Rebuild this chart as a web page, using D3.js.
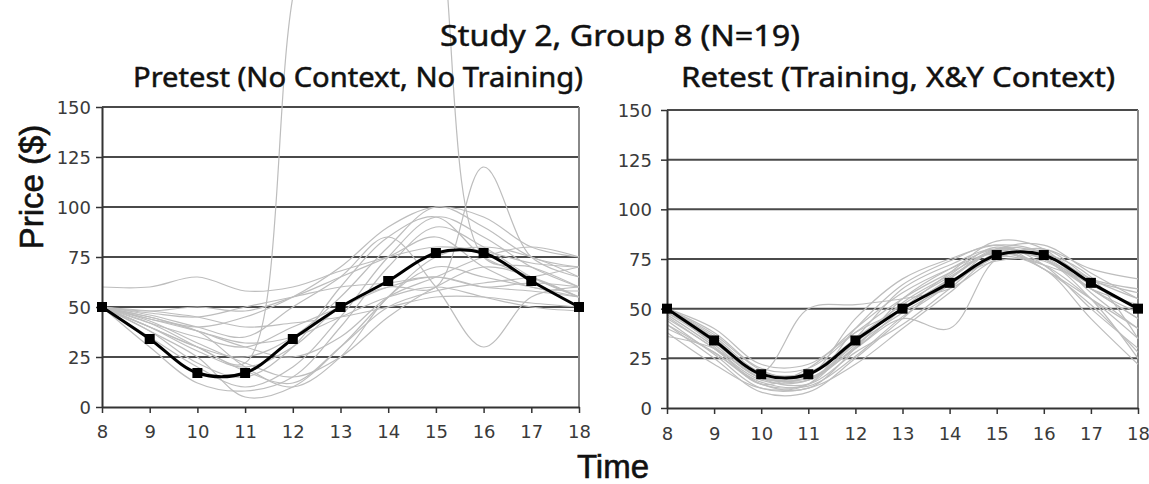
<!DOCTYPE html>
<html>
<head>
<meta charset="utf-8">
<script src="https://cdnjs.cloudflare.com/ajax/libs/d3/7.8.5/d3.min.js"></script>
<style>
  body { margin: 0; background: #fff; }
  svg { display: block; }
</style>
</head>
<body>
<div id="chart"></div>
<script>
// Chart data
var times = [8, 9, 10, 11, 12, 13, 14, 15, 16, 17, 18];
var yTicks = [0, 25, 50, 75, 100, 125, 150];
var targetPrices = [50, 34, 17, 17, 34, 50, 63, 77, 77, 63, 50];

// one row per participant (N=19), price at each time
var pretestPrices = [
  [60, 60, 65, 58, 60, 68, 75, 80, 78, 72, 70],
  [50, 45, 40, 45, 55, 70, 90, 100, 95, 80, 75],
  [50, 40, 30, 25, 35, 55, 80, 100, 90, 75, 70],
  [50, 35, 20, 10, 20, 45, 75, 95, 85, 70, 60],
  [50, 30, 12, 8, 15, 40, 70, 90, 80, 65, 55],
  [50, 42, 35, 30, 40, 50, 60, 65, 60, 58, 55],
  [50, 48, 45, 40, 42, 45, 50, 55, 55, 52, 50],
  [50, 38, 25, 5, 10, 30, 55, 75, 80, 75, 65],
  [50, 40, 30, 22, 205, 320, 330, 255, 75, 70, 60],
  [50, 44, 38, 20, 10, 25, 55, 70, 65, 60, 55],
  [50, 46, 40, 35, 50, 65, 85, 60, 30, 55, 60],
  [50, 40, 28, 20, 30, 50, 60, 60, 120, 75, 65],
  [50, 47, 45, 50, 55, 60, 62, 65, 60, 62, 60],
  [50, 45, 38, 30, 25, 35, 55, 65, 75, 80, 75],
  [50, 43, 32, 22, 15, 25, 45, 60, 70, 65, 55],
  [50, 42, 30, 18, 12, 30, 50, 58, 62, 65, 70],
  [50, 48, 50, 48, 55, 65, 75, 85, 70, 60, 58],
  [50, 38, 22, 15, 30, 60, 85, 95, 75, 65, 55],
  [50, 44, 38, 32, 35, 45, 55, 60, 55, 50, 48]
];

var retestPrices = [
  [50, 35, 17, 17, 34, 50, 63, 77, 77, 63, 50],
  [45, 30, 12, 10, 30, 55, 70, 80, 75, 60, 45],
  [40, 28, 12, 12, 35, 60, 72, 80, 70, 55, 40],
  [38, 22, 10, 12, 40, 62, 74, 82, 72, 50, 30],
  [48, 35, 18, 50, 52, 55, 60, 75, 80, 65, 55],
  [50, 32, 15, 15, 30, 45, 40, 75, 78, 65, 60],
  [42, 25, 8, 8, 25, 45, 65, 80, 75, 55, 25],
  [50, 38, 20, 20, 38, 55, 68, 78, 72, 55, 35],
  [46, 30, 14, 14, 32, 48, 62, 76, 80, 70, 65],
  [50, 36, 18, 18, 35, 52, 66, 79, 76, 60, 45],
  [44, 27, 10, 10, 22, 40, 58, 76, 70, 45, 22],
  [50, 40, 22, 22, 38, 50, 65, 80, 82, 68, 55],
  [48, 33, 15, 12, 28, 42, 60, 78, 75, 62, 50],
  [36, 30, 15, 16, 45, 65, 75, 82, 78, 60, 48],
  [50, 34, 16, 15, 30, 50, 68, 84, 80, 58, 40],
  [47, 31, 12, 20, 40, 58, 70, 78, 72, 64, 58],
  [50, 37, 19, 15, 33, 50, 64, 74, 74, 60, 52],
  [42, 28, 13, 11, 26, 46, 62, 80, 78, 66, 35],
  [50, 35, 16, 14, 31, 53, 67, 81, 70, 52, 28]
];

var svgWidth = 1149;
var svgHeight = 484;

var svg = d3.select("#chart")
  .append("svg")
  .attr("width", svgWidth)
  .attr("height", svgHeight);

// panel boxes (pixel positions of the plot areas)
var panels = [
  { title: "Pretest (No Context, No Training)", rows: pretestPrices,
    left: 102, right: 579, top: 107, bottom: 407, labelGap: 11, labelY: 438,
    titleX: 133, titleW: 450 },
  { title: "Retest (Training, X&Y Context)", rows: retestPrices,
    left: 667, right: 1138, top: 110, bottom: 408, labelGap: 15, labelY: 440,
    titleX: 681, titleW: 434 }
];

var grayLine = d3.line().curve(d3.curveCatmullRom);

panels.forEach(function(p) {
  var x = d3.scaleLinear().domain([8, 18]).range([p.left, p.right]);
  var y = d3.scaleLinear().domain([0, 150]).range([p.bottom, p.top]);

  var g = svg.append("g");

  // horizontal gridlines
  g.selectAll(".grid")
    .data(yTicks.filter(function(d) { return d > 0; }))
    .enter()
    .append("line")
    .attr("x1", p.left)
    .attr("x2", p.right)
    .attr("y1", function(d) { return y(d); })
    .attr("y2", function(d) { return y(d); })
    .attr("stroke", "#4a4a4a")
    .attr("stroke-width", 2);

  // right border of the plot area
  g.append("line")
    .attr("x1", p.right).attr("x2", p.right)
    .attr("y1", p.top).attr("y2", p.bottom)
    .attr("stroke", "#888")
    .attr("stroke-width", 2);

  // participant lines
  g.selectAll(".person")
    .data(p.rows)
    .enter()
    .append("path")
    .attr("d", function(row) {
      return grayLine(row.map(function(v, i) { return [x(times[i]), y(v)]; }));
    })
    .attr("fill", "none")
    .attr("stroke", "#bdbdbd")
    .attr("stroke-width", 1.2);

  // axes
  var yAxis = d3.axisLeft(y).tickValues(yTicks).tickSize(6).tickSizeOuter(0).tickFormat(d3.format("d"));
  var xAxis = d3.axisBottom(x).tickValues(times).tickSize(6).tickSizeOuter(0).tickFormat(d3.format("d"));

  var ya = g.append("g")
    .attr("transform", "translate(" + p.left + ",0)")
    .call(yAxis);
  var xa = g.append("g")
    .attr("transform", "translate(0," + p.bottom + ")")
    .call(xAxis);

  [ya, xa].forEach(function(a) {
    a.select(".domain").attr("stroke", "#333").attr("stroke-width", 2);
    a.selectAll(".tick line").attr("stroke", "#333").attr("stroke-width", 1.5);
    a.selectAll("text")
      .attr("fill", "#3a3a3a")
      .style("font-family", "'DejaVu Sans', Verdana, sans-serif")
      .style("font-size", "18px");
  });
  ya.selectAll("text").attr("x", -p.labelGap).attr("dy", "0.36em");
  xa.selectAll("text").attr("y", p.labelY - p.bottom).attr("dy", 0);

  // target path with square markers
  g.append("path")
    .attr("d", d3.line().curve(d3.curveCatmullRom)(targetPrices.map(function(v, i) { return [x(times[i]), y(v)]; })))
    .attr("fill", "none")
    .attr("stroke", "#000")
    .attr("stroke-width", 3);

  g.selectAll(".marker")
    .data(targetPrices)
    .enter()
    .append("rect")
    .attr("x", function(d, i) { return x(times[i]) - 5; })
    .attr("y", function(d) { return y(d) - 5; })
    .attr("width", 10)
    .attr("height", 10)
    .attr("fill", "#000");

  // panel title
  svg.append("text")
    .attr("x", p.titleX)
    .attr("y", 87)
    .attr("textLength", p.titleW)
    .attr("lengthAdjust", "spacingAndGlyphs")
    .style("font-family", "'Noto Sans', 'Open Sans', sans-serif")
    .style("font-size", "27px")
    .attr("fill", "#111")
    .attr("stroke", "#111")
    .attr("stroke-width", 0.5)
    .text(p.title);
});

// main title
svg.append("text")
  .attr("x", 440)
  .attr("y", 46)
  .attr("textLength", 360)
  .attr("lengthAdjust", "spacingAndGlyphs")
  .style("font-family", "'Noto Sans', 'Open Sans', sans-serif")
  .style("font-size", "29px")
  .attr("fill", "#111")
  .attr("stroke", "#111")
  .attr("stroke-width", 0.5)
  .text("Study 2, Group 8 (N=19)");

// axis titles
svg.append("text")
  .attr("transform", "translate(43, 187) rotate(-90)")
  .attr("text-anchor", "middle")
  .style("font-family", "'Liberation Sans', Arial, sans-serif")
  .style("font-size", "33px")
  .attr("fill", "#111")
  .attr("stroke", "#111")
  .attr("stroke-width", 0.6)
  .text("Price ($)");

svg.append("text")
  .attr("x", 613)
  .attr("y", 478)
  .attr("text-anchor", "middle")
  .style("font-family", "'Liberation Sans', Arial, sans-serif")
  .style("font-size", "33px")
  .attr("fill", "#111")
  .attr("stroke", "#111")
  .attr("stroke-width", 0.6)
  .text("Time");
</script>
</body>
</html>
